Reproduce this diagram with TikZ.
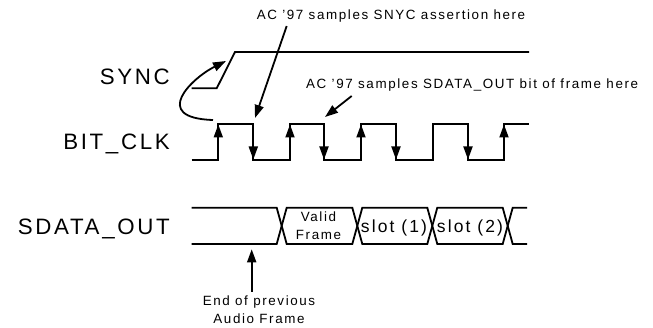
\documentclass[tikz,border=0pt]{standalone}
\usepackage{fontspec}
\setmainfont{Liberation Sans}[LetterSpace=12]
\usetikzlibrary{arrows.meta}
\newcommand{\sq}{{\char"27}}
\begin{document}
\begin{tikzpicture}[x=1pt,y=-1pt,
  sig/.style={line width=1.8pt, line join=miter},
  arr/.style={line width=1.8pt, -{Triangle[length=13pt,width=9pt]}},
  big/.style={font=\fontsize{22.3}{24}\selectfont, inner sep=0pt},
  small/.style={font=\fontsize{13.4}{16}\selectfont, inner sep=0pt, align=center},
  mid/.style={font=\fontsize{17.5}{20}\selectfont, inner sep=0pt}]
\useasboundingbox (0,0) rectangle (653,328);
% labels
\node[big, anchor=base east] (lsync) at (170,84.3) {SYNC};
\node[big, anchor=base east] (lclk) at (170,150) {BIT\_CLK};
\node[big, anchor=base east] (lsd) at (170,234.3) {SDATA\_OUT};
% SYNC
\draw[sig] (191.7,88.3) -- (216.7,88.3) -- (235,52) -- (529,52);
% BIT_CLK waveform
\draw[sig] (191.7,160) -- (218.3,160) -- (218.3,124) -- (253.3,124) -- (253.3,160)
  -- (290,160) -- (290,124) -- (324,124) -- (324,160) -- (361,160) -- (361,124)
  -- (396,124) -- (396,160) -- (432.7,160) -- (432.7,124) -- (468,124) -- (468,160)
  -- (504,160) -- (504,124) -- (529,124);
\foreach \x in {218.3,290,361,504}
  \draw[arr] (\x,152) -- (\x,124.5);
\foreach \x in {253.3,324,396,468}
  \draw[arr] (\x,132) -- (\x,159.5);
% curved arrow
\coordinate (cs) at (213,120);
\coordinate (ce) at (226,61);
\draw[arr] (cs) .. controls (150,118) and (192,78) .. (ce);
% annotations
\node[small, anchor=base] (t1) at (391,20) {AC \sq97 samples SNYC assertion here};
\node[small, anchor=base west] (t2) at (306,88.3) {AC \sq97 samples SDATA\_OUT bit of frame here};
\coordinate (a1s) at (286.7,26);
\coordinate (a1e) at (255,118);
\coordinate (a2s) at (351.7,96);
\coordinate (a2e) at (325,117);
\draw[arr] (a1s) -- (a1e);
\draw[arr] (a2s) -- (a2e);
% SDATA_OUT
\def\T{207.7}\def\B{244}
\draw[sig] (191.7,\T) -- (276.7,\T) -- (286.7,\B) -- (352.3,\B) -- (362.3,\T)
  -- (427.3,\T) -- (437.3,\B) -- (502.7,\B) -- (512.7,\T) -- (527,\T);
\draw[sig] (191.7,\B) -- (276.7,\B) -- (286.7,\T) -- (352.3,\T) -- (362.3,\B)
  -- (427.3,\B) -- (437.3,\T) -- (502.7,\T) -- (512.7,\B) -- (527,\B);
\node[small, anchor=base] (v1) at (318.5,221.7) {Valid};
\node[small, anchor=base] (v2) at (318.5,239.3) {Frame};
\node[mid, anchor=base] (s1) at (394,232.7) {slot (1)};
\node[mid, anchor=base] (s2) at (470,232.7) {slot (2)};
% end of previous frame
\node[small, anchor=base] (e1) at (259,305.5) {End of previous};
\node[small, anchor=base] (e2) at (259,323.5) {Audio Frame};
\coordinate (ea) at (251.7,291.7);
\coordinate (eb) at (251.7,249.3);
\draw[arr] (ea) -- (eb);
\end{tikzpicture}
\end{document}
